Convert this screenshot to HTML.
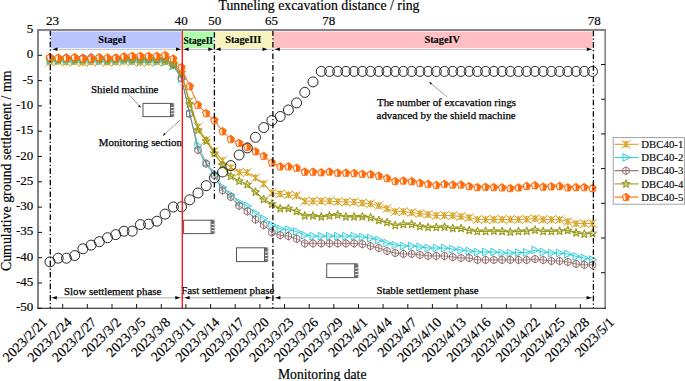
<!DOCTYPE html>
<html><head><meta charset="utf-8"><title>Settlement chart</title>
<style>html,body{margin:0;padding:0;background:#fff;} body{width:685px;height:381px;overflow:hidden;font-family:"Liberation Serif",serif;} svg{display:block;}</style>
</head><body>
<svg width="685" height="381" viewBox="0 0 685 381">
<defs>
 <g id="mGold" fill="none" stroke="#D8A01C" stroke-width="0.95">
  <path d="M-4.4,-4.4L4.4,4.4M-4.4,4.4L4.4,-4.4M0,-3.6V3.6M-2.4,-2.4L2.4,-2.4L-2.4,2.4L2.4,2.4Z"/>
 </g>
 <g id="mCyan"><path d="M-3.1,-3.8L4.1,0L-3.1,3.8Z" fill="none" stroke="#2FCFDA" stroke-width="1"/></g>
 <g id="mBrown" fill="none" stroke="#8E6565" stroke-width="0.95"><path d="M0,-3.9L3.2,-1.9L3.2,1.9L0,3.9L-3.2,1.9L-3.2,-1.9Z"/><path d="M0,-3.9V3.9"/></g>
 <g id="mOlive"><path d="M0,-4.1L1.05,-1.35L3.9,-1.3L1.65,0.55L2.45,3.4L0,1.75L-2.45,3.4L-1.65,0.55L-3.9,-1.3L-1.05,-1.35Z" fill="none" stroke="#9C9C20" stroke-width="1.15" stroke-linejoin="round"/></g>
 <g id="mOrange">
  <path d="M0,-4L3.8,-1.2L2.4,3.6L-2.4,3.6L-3.8,-1.2Z" fill="#FF6A0A" stroke="#FF6A0A" stroke-width="0.7"/>
  <path d="M-0.6,-2.5L-2.9,-0.8L-1.8,2.9L-0.6,2.9Z" fill="#fff"/>
 </g>
 <g id="mRing"><circle r="5" fill="none" stroke="#111" stroke-width="0.9"/></g>
 <g id="ahR"><path d="M0,0L-5,-1.8L-5,1.8Z" fill="#000"/></g>
 <g id="ahL"><path d="M0,0L5,-1.8L5,1.8Z" fill="#000"/></g>
</defs><rect width="685" height="381" fill="#fff"/><rect x="39" y="31" width="565" height="277" fill="#fff"/>
<rect x="51" y="31.5" width="130.3" height="16.5" fill="#B9C4FC"/>
<rect x="183" y="31.5" width="30.8" height="16.5" fill="#AEFFAE"/>
<rect x="215" y="31.5" width="57.6" height="16.5" fill="#F6F3BF"/>
<rect x="273.2" y="31.5" width="319.4" height="16.5" fill="#FFC0C3"/>
<g font-family="Liberation Serif" font-weight="bold" font-size="10.3" fill="#000" stroke="#000" stroke-width="0.15" text-anchor="middle"><text x="112.3" y="43.2">StageI</text><text x="198.3" y="43.6" textLength="29.5" lengthAdjust="spacingAndGlyphs">StageII</text><text x="243.2" y="42.9">StageIII</text><text x="442.2" y="42.9">StageIV</text></g>
<path d="M51,49.3H592.5" stroke="#c8c8c8" stroke-width="1.2"/>
<use href="#ahL" x="52.5" y="49.3"/>
<use href="#ahR" x="181" y="49.3"/><use href="#ahL" x="183.6" y="49.3"/>
<use href="#ahR" x="213.3" y="49.3"/><use href="#ahL" x="215.6" y="49.3"/>
<use href="#ahR" x="267.5" y="49.3"/><use href="#ahL" x="274.8" y="49.3"/>
<use href="#ahR" x="591.8" y="49.3"/>
<path d="M51,297.8H592.5" stroke="#b0b0b0" stroke-width="1"/>
<use href="#ahL" x="51.8" y="297.8"/><use href="#ahR" x="180.3" y="297.8"/>
<use href="#ahL" x="184.6" y="297.8"/><use href="#ahR" x="270.8" y="297.8"/>
<use href="#ahL" x="275.3" y="297.8"/><use href="#ahR" x="591.6" y="297.8"/>
<g font-family="Liberation Serif" font-size="10.9" fill="#000" stroke="#000" stroke-width="0.25"><text x="64" y="294.5">Slow settlement phase</text><text x="181.2" y="294.2">Fast settlement phase</text><text x="376.4" y="294.3">Stable settlement phase</text></g>
<rect x="143" y="103.4" width="27.5" height="13.2" fill="#fff" stroke="#555" stroke-width="1"/><rect x="170.5" y="102.9" width="3.2" height="14.2" fill="#6a6a6a"/><path d="M173.7,104.0q1.3,1.6 0,2.7" fill="none" stroke="#888" stroke-width="0.6"/><path d="M173.7,107.3q1.3,1.6 0,2.7" fill="none" stroke="#888" stroke-width="0.6"/><path d="M173.7,110.6q1.3,1.6 0,2.7" fill="none" stroke="#888" stroke-width="0.6"/><path d="M173.7,113.9q1.3,1.6 0,2.7" fill="none" stroke="#888" stroke-width="0.6"/><rect x="171.0" y="107.0" width="2.4" height="1" fill="#fff"/><rect x="171.0" y="110.2" width="2.4" height="1" fill="#fff"/><rect x="171.0" y="113.2" width="2.4" height="1" fill="#fff"/>
<rect x="183.6" y="220.2" width="27.5" height="13.4" fill="#fff" stroke="#555" stroke-width="1"/><rect x="211.1" y="219.7" width="3.2" height="14.4" fill="#6a6a6a"/><path d="M214.29999999999998,220.8q1.3,1.7 0,2.8" fill="none" stroke="#888" stroke-width="0.6"/><path d="M214.29999999999998,224.1q1.3,1.7 0,2.8" fill="none" stroke="#888" stroke-width="0.6"/><path d="M214.29999999999998,227.5q1.3,1.7 0,2.8" fill="none" stroke="#888" stroke-width="0.6"/><path d="M214.29999999999998,230.8q1.3,1.7 0,2.8" fill="none" stroke="#888" stroke-width="0.6"/><rect x="211.6" y="223.9" width="2.4" height="1" fill="#fff"/><rect x="211.6" y="227.1" width="2.4" height="1" fill="#fff"/><rect x="211.6" y="230.2" width="2.4" height="1" fill="#fff"/>
<rect x="236.5" y="247.8" width="28" height="13.8" fill="#fff" stroke="#555" stroke-width="1"/><rect x="264.5" y="247.3" width="3.2" height="14.8" fill="#6a6a6a"/><path d="M267.7,248.4q1.3,1.7 0,2.9" fill="none" stroke="#888" stroke-width="0.6"/><path d="M267.7,251.8q1.3,1.7 0,2.9" fill="none" stroke="#888" stroke-width="0.6"/><path d="M267.7,255.3q1.3,1.7 0,2.9" fill="none" stroke="#888" stroke-width="0.6"/><path d="M267.7,258.8q1.3,1.7 0,2.9" fill="none" stroke="#888" stroke-width="0.6"/><rect x="265.0" y="251.6" width="2.4" height="1" fill="#fff"/><rect x="265.0" y="254.9" width="2.4" height="1" fill="#fff"/><rect x="265.0" y="258.1" width="2.4" height="1" fill="#fff"/>
<rect x="326.7" y="263.8" width="28" height="13.8" fill="#fff" stroke="#555" stroke-width="1"/><rect x="354.7" y="263.3" width="3.2" height="14.8" fill="#6a6a6a"/><path d="M357.9,264.4q1.3,1.7 0,2.9" fill="none" stroke="#888" stroke-width="0.6"/><path d="M357.9,267.9q1.3,1.7 0,2.9" fill="none" stroke="#888" stroke-width="0.6"/><path d="M357.9,271.3q1.3,1.7 0,2.9" fill="none" stroke="#888" stroke-width="0.6"/><path d="M357.9,274.8q1.3,1.7 0,2.9" fill="none" stroke="#888" stroke-width="0.6"/><rect x="355.2" y="267.6" width="2.4" height="1" fill="#fff"/><rect x="355.2" y="270.9" width="2.4" height="1" fill="#fff"/><rect x="355.2" y="274.1" width="2.4" height="1" fill="#fff"/>
<g font-family="Liberation Serif" font-size="10.9" fill="#000" stroke="#000" stroke-width="0.25"><text x="91" y="92.6">Shield machine</text><text x="98.8" y="146.2">Monitoring section</text><text x="377" y="106">The number of excavation rings</text><text x="376.6" y="118.5">advanced by the shield machine</text></g>
<path d="M129.3,94.9L140.3,107" stroke="#555" stroke-width="0.6"/><path d="M141,107.8l-3.2,-1.3l1.8,-1.6z" fill="#222"/>
<path d="M180.2,120L163.5,135.2" stroke="#555" stroke-width="0.6"/><path d="M162.8,135.9l1.2,-3.2l1.7,1.8z" fill="#222"/>
<path d="M446.9,96.8L429.8,82.5" stroke="#555" stroke-width="0.6"/><path d="M429,81.9l3.3,1.1l-1.6,1.8z" fill="#222"/>
<polyline points="50,261.9 58.2,258.2 66.4,258.2 74.7,255.6 82.9,248.8 91.1,245.1 99.3,241.7 107.5,237.7 115.8,234.6 124,231.2 132.2,231.2 140.4,224.6 148.6,224.1 156.9,221.2 165.1,214.1 173.3,207 181.5,206.8 189.7,199.8 198,193 206.2,185.7 214.4,177.9 222.6,172 230.8,165.6 239.1,155 247.3,147.9 255.5,137.3 263.7,127.6 271.9,120.5 280.2,116.5 288.4,110 296.6,102.9 304.8,92.4 313,81.9 321.3,71.4 329.5,71.4 337.7,71.4 345.9,71.4 354.1,71.4 362.3,71.4 370.6,71.4 378.8,71.4 387,71.4 395.2,71.4 403.4,71.4 411.7,71.4 419.9,71.4 428.1,71.4 436.3,71.4 444.5,71.4 452.8,71.4 461,71.4 469.2,71.4 477.4,71.4 485.6,71.4 493.9,71.4 502.1,71.4 510.3,71.4 518.5,71.4 526.7,71.4 535,71.4 543.2,71.4 551.4,71.4 559.6,71.4 567.8,71.4 576.1,71.4 584.3,71.4 592.5,71.4" fill="none" stroke="#111" stroke-width="0.9" opacity="0"/>
<polyline points="50,62 58.2,61.5 66.4,62.2 74.7,61.8 82.9,62.5 91.1,62 99.3,61.6 107.5,62.2 115.8,62 124,61.5 132.2,61.8 140.4,62.5 148.6,62.2 156.9,61.8 165.1,62 173.3,66 181.5,75 189.7,101 198,127 206.2,140 214.4,151 222.6,160.5 230.8,167.6 239.1,172.3 247.3,172.5 255.5,177.8 263.7,183.8 271.9,193 280.2,193.9 288.4,194.8 296.6,195.6 304.8,201.1 313,201.1 321.3,201.1 329.5,201.1 337.7,201.7 345.9,202 354.1,202 362.3,203 370.6,203.7 378.8,205.7 387,208.6 395.2,211.6 403.4,211.6 411.7,212.6 419.9,213.6 428.1,214.5 436.3,215.5 444.5,215.5 452.8,215.6 461,216.6 469.2,217.6 477.4,219.5 485.6,219.5 493.9,219.5 502.1,219.5 510.3,219.5 518.5,219.5 526.7,219.3 535,218.6 543.2,219.6 551.4,219.6 559.6,219.6 567.8,221.6 576.1,223.6 584.3,223.6 592.5,223.6" fill="none" stroke="#D8A01C" stroke-width="1.0" />
<use href="#mGold" x="50" y="62"/><use href="#mGold" x="58.2" y="61.5"/><use href="#mGold" x="66.4" y="62.2"/><use href="#mGold" x="74.7" y="61.8"/><use href="#mGold" x="82.9" y="62.5"/><use href="#mGold" x="91.1" y="62"/><use href="#mGold" x="99.3" y="61.6"/><use href="#mGold" x="107.5" y="62.2"/><use href="#mGold" x="115.8" y="62"/><use href="#mGold" x="124" y="61.5"/><use href="#mGold" x="132.2" y="61.8"/><use href="#mGold" x="140.4" y="62.5"/><use href="#mGold" x="148.6" y="62.2"/><use href="#mGold" x="156.9" y="61.8"/><use href="#mGold" x="165.1" y="62"/><use href="#mGold" x="173.3" y="66"/><use href="#mGold" x="181.5" y="75"/><use href="#mGold" x="189.7" y="101"/><use href="#mGold" x="198" y="127"/><use href="#mGold" x="206.2" y="140"/><use href="#mGold" x="214.4" y="151"/><use href="#mGold" x="222.6" y="160.5"/><use href="#mGold" x="230.8" y="167.6"/><use href="#mGold" x="239.1" y="172.3"/><use href="#mGold" x="247.3" y="172.5"/><use href="#mGold" x="255.5" y="177.8"/><use href="#mGold" x="263.7" y="183.8"/><use href="#mGold" x="271.9" y="193"/><use href="#mGold" x="280.2" y="193.9"/><use href="#mGold" x="288.4" y="194.8"/><use href="#mGold" x="296.6" y="195.6"/><use href="#mGold" x="304.8" y="201.1"/><use href="#mGold" x="313" y="201.1"/><use href="#mGold" x="321.3" y="201.1"/><use href="#mGold" x="329.5" y="201.1"/><use href="#mGold" x="337.7" y="201.7"/><use href="#mGold" x="345.9" y="202"/><use href="#mGold" x="354.1" y="202"/><use href="#mGold" x="362.3" y="203"/><use href="#mGold" x="370.6" y="203.7"/><use href="#mGold" x="378.8" y="205.7"/><use href="#mGold" x="387" y="208.6"/><use href="#mGold" x="395.2" y="211.6"/><use href="#mGold" x="403.4" y="211.6"/><use href="#mGold" x="411.7" y="212.6"/><use href="#mGold" x="419.9" y="213.6"/><use href="#mGold" x="428.1" y="214.5"/><use href="#mGold" x="436.3" y="215.5"/><use href="#mGold" x="444.5" y="215.5"/><use href="#mGold" x="452.8" y="215.6"/><use href="#mGold" x="461" y="216.6"/><use href="#mGold" x="469.2" y="217.6"/><use href="#mGold" x="477.4" y="219.5"/><use href="#mGold" x="485.6" y="219.5"/><use href="#mGold" x="493.9" y="219.5"/><use href="#mGold" x="502.1" y="219.5"/><use href="#mGold" x="510.3" y="219.5"/><use href="#mGold" x="518.5" y="219.5"/><use href="#mGold" x="526.7" y="219.3"/><use href="#mGold" x="535" y="218.6"/><use href="#mGold" x="543.2" y="219.6"/><use href="#mGold" x="551.4" y="219.6"/><use href="#mGold" x="559.6" y="219.6"/><use href="#mGold" x="567.8" y="221.6"/><use href="#mGold" x="576.1" y="223.6"/><use href="#mGold" x="584.3" y="223.6"/><use href="#mGold" x="592.5" y="223.6"/>
<polyline points="50,60.5 58.2,61 66.4,60.8 74.7,61.2 82.9,60.5 91.1,61 99.3,61.3 107.5,60.8 115.8,61 124,60.5 132.2,61 140.4,61.2 148.6,60.8 156.9,61.5 165.1,61.8 173.3,66 181.5,79 189.7,113.7 198,145.6 206.2,162.8 214.4,173.1 222.6,187.2 230.8,194.5 239.1,202.2 247.3,205.8 255.5,213.2 263.7,218.7 271.9,225.1 280.2,228.8 288.4,229.7 296.6,231.5 304.8,235.2 313,236.1 321.3,236.1 329.5,236.1 337.7,236.1 345.9,236.1 354.1,236.1 362.3,237 370.6,238.2 378.8,240.1 387,243.1 395.2,245.1 403.4,246 411.7,246 419.9,247 428.1,248 436.3,248 444.5,248.1 452.8,249.1 461,250.1 469.2,251 477.4,252 485.6,252 493.9,252 502.1,253 510.3,253 518.5,252.6 526.7,252.5 535,250.1 543.2,252.1 551.4,253.1 559.6,253.1 567.8,254.1 576.1,256.4 584.3,258 592.5,259.6" fill="none" stroke="#2FCFDA" stroke-width="1.0" />
<use href="#mCyan" x="50" y="60.5"/><use href="#mCyan" x="58.2" y="61"/><use href="#mCyan" x="66.4" y="60.8"/><use href="#mCyan" x="74.7" y="61.2"/><use href="#mCyan" x="82.9" y="60.5"/><use href="#mCyan" x="91.1" y="61"/><use href="#mCyan" x="99.3" y="61.3"/><use href="#mCyan" x="107.5" y="60.8"/><use href="#mCyan" x="115.8" y="61"/><use href="#mCyan" x="124" y="60.5"/><use href="#mCyan" x="132.2" y="61"/><use href="#mCyan" x="140.4" y="61.2"/><use href="#mCyan" x="148.6" y="60.8"/><use href="#mCyan" x="156.9" y="61.5"/><use href="#mCyan" x="165.1" y="61.8"/><use href="#mCyan" x="173.3" y="66"/><use href="#mCyan" x="181.5" y="79"/><use href="#mCyan" x="189.7" y="113.7"/><use href="#mCyan" x="198" y="145.6"/><use href="#mCyan" x="206.2" y="162.8"/><use href="#mCyan" x="214.4" y="173.1"/><use href="#mCyan" x="222.6" y="187.2"/><use href="#mCyan" x="230.8" y="194.5"/><use href="#mCyan" x="239.1" y="202.2"/><use href="#mCyan" x="247.3" y="205.8"/><use href="#mCyan" x="255.5" y="213.2"/><use href="#mCyan" x="263.7" y="218.7"/><use href="#mCyan" x="271.9" y="225.1"/><use href="#mCyan" x="280.2" y="228.8"/><use href="#mCyan" x="288.4" y="229.7"/><use href="#mCyan" x="296.6" y="231.5"/><use href="#mCyan" x="304.8" y="235.2"/><use href="#mCyan" x="313" y="236.1"/><use href="#mCyan" x="321.3" y="236.1"/><use href="#mCyan" x="329.5" y="236.1"/><use href="#mCyan" x="337.7" y="236.1"/><use href="#mCyan" x="345.9" y="236.1"/><use href="#mCyan" x="354.1" y="236.1"/><use href="#mCyan" x="362.3" y="237"/><use href="#mCyan" x="370.6" y="238.2"/><use href="#mCyan" x="378.8" y="240.1"/><use href="#mCyan" x="387" y="243.1"/><use href="#mCyan" x="395.2" y="245.1"/><use href="#mCyan" x="403.4" y="246"/><use href="#mCyan" x="411.7" y="246"/><use href="#mCyan" x="419.9" y="247"/><use href="#mCyan" x="428.1" y="248"/><use href="#mCyan" x="436.3" y="248"/><use href="#mCyan" x="444.5" y="248.1"/><use href="#mCyan" x="452.8" y="249.1"/><use href="#mCyan" x="461" y="250.1"/><use href="#mCyan" x="469.2" y="251"/><use href="#mCyan" x="477.4" y="252"/><use href="#mCyan" x="485.6" y="252"/><use href="#mCyan" x="493.9" y="252"/><use href="#mCyan" x="502.1" y="253"/><use href="#mCyan" x="510.3" y="253"/><use href="#mCyan" x="518.5" y="252.6"/><use href="#mCyan" x="526.7" y="252.5"/><use href="#mCyan" x="535" y="250.1"/><use href="#mCyan" x="543.2" y="252.1"/><use href="#mCyan" x="551.4" y="253.1"/><use href="#mCyan" x="559.6" y="253.1"/><use href="#mCyan" x="567.8" y="254.1"/><use href="#mCyan" x="576.1" y="256.4"/><use href="#mCyan" x="584.3" y="258"/><use href="#mCyan" x="592.5" y="259.6"/>
<polyline points="50,58 58.2,58.5 66.4,57.8 74.7,58.2 82.9,58 91.1,57.5 99.3,58.2 107.5,58.6 115.8,58 124,57.8 132.2,58.3 140.4,58 148.6,58.5 156.9,58.8 165.1,59 173.3,64 181.5,78 189.7,113.7 198,150 206.2,163.6 214.4,175.4 222.6,190.4 230.8,197 239.1,205.8 247.3,211.3 255.5,219.6 263.7,225.1 271.9,232.5 280.2,235.2 288.4,236.1 296.6,238.8 304.8,243.4 313,243.4 321.3,243.4 329.5,243.4 337.7,243.4 345.9,243.4 354.1,243.4 362.3,244.1 370.6,246 378.8,248 387,251 395.2,253 403.4,253.9 411.7,253.9 419.9,254.9 428.1,255.9 436.3,255.9 444.5,256 452.8,257 461,258 469.2,258 477.4,259.9 485.6,259.9 493.9,259.9 502.1,259.9 510.3,259.9 518.5,259.9 526.7,260 535,259 543.2,260 551.4,261 559.6,261 567.8,262 576.1,263.9 584.3,264.9 592.5,264.9" fill="none" stroke="#8E6565" stroke-width="1.0" stroke-opacity="0.8"/>
<use href="#mBrown" x="50" y="58"/><use href="#mBrown" x="58.2" y="58.5"/><use href="#mBrown" x="66.4" y="57.8"/><use href="#mBrown" x="74.7" y="58.2"/><use href="#mBrown" x="82.9" y="58"/><use href="#mBrown" x="91.1" y="57.5"/><use href="#mBrown" x="99.3" y="58.2"/><use href="#mBrown" x="107.5" y="58.6"/><use href="#mBrown" x="115.8" y="58"/><use href="#mBrown" x="124" y="57.8"/><use href="#mBrown" x="132.2" y="58.3"/><use href="#mBrown" x="140.4" y="58"/><use href="#mBrown" x="148.6" y="58.5"/><use href="#mBrown" x="156.9" y="58.8"/><use href="#mBrown" x="165.1" y="59"/><use href="#mBrown" x="173.3" y="64"/><use href="#mBrown" x="181.5" y="78"/><use href="#mBrown" x="189.7" y="113.7"/><use href="#mBrown" x="198" y="150"/><use href="#mBrown" x="206.2" y="163.6"/><use href="#mBrown" x="214.4" y="175.4"/><use href="#mBrown" x="222.6" y="190.4"/><use href="#mBrown" x="230.8" y="197"/><use href="#mBrown" x="239.1" y="205.8"/><use href="#mBrown" x="247.3" y="211.3"/><use href="#mBrown" x="255.5" y="219.6"/><use href="#mBrown" x="263.7" y="225.1"/><use href="#mBrown" x="271.9" y="232.5"/><use href="#mBrown" x="280.2" y="235.2"/><use href="#mBrown" x="288.4" y="236.1"/><use href="#mBrown" x="296.6" y="238.8"/><use href="#mBrown" x="304.8" y="243.4"/><use href="#mBrown" x="313" y="243.4"/><use href="#mBrown" x="321.3" y="243.4"/><use href="#mBrown" x="329.5" y="243.4"/><use href="#mBrown" x="337.7" y="243.4"/><use href="#mBrown" x="345.9" y="243.4"/><use href="#mBrown" x="354.1" y="243.4"/><use href="#mBrown" x="362.3" y="244.1"/><use href="#mBrown" x="370.6" y="246"/><use href="#mBrown" x="378.8" y="248"/><use href="#mBrown" x="387" y="251"/><use href="#mBrown" x="395.2" y="253"/><use href="#mBrown" x="403.4" y="253.9"/><use href="#mBrown" x="411.7" y="253.9"/><use href="#mBrown" x="419.9" y="254.9"/><use href="#mBrown" x="428.1" y="255.9"/><use href="#mBrown" x="436.3" y="255.9"/><use href="#mBrown" x="444.5" y="256"/><use href="#mBrown" x="452.8" y="257"/><use href="#mBrown" x="461" y="258"/><use href="#mBrown" x="469.2" y="258"/><use href="#mBrown" x="477.4" y="259.9"/><use href="#mBrown" x="485.6" y="259.9"/><use href="#mBrown" x="493.9" y="259.9"/><use href="#mBrown" x="502.1" y="259.9"/><use href="#mBrown" x="510.3" y="259.9"/><use href="#mBrown" x="518.5" y="259.9"/><use href="#mBrown" x="526.7" y="260"/><use href="#mBrown" x="535" y="259"/><use href="#mBrown" x="543.2" y="260"/><use href="#mBrown" x="551.4" y="261"/><use href="#mBrown" x="559.6" y="261"/><use href="#mBrown" x="567.8" y="262"/><use href="#mBrown" x="576.1" y="263.9"/><use href="#mBrown" x="584.3" y="264.9"/><use href="#mBrown" x="592.5" y="264.9"/>
<polyline points="50,59.5 58.2,60 66.4,59 74.7,59.8 82.9,60.2 91.1,59.5 99.3,59.2 107.5,60 115.8,59.6 124,59 132.2,59.5 140.4,59.8 148.6,59.2 156.9,59.5 165.1,60 173.3,64 181.5,72.6 189.7,104 198,130 206.2,141 214.4,153.4 222.6,165.2 230.8,176.2 239.1,181 247.3,184.5 255.5,192 263.7,199.4 271.9,204 280.2,208.6 288.4,208.6 296.6,211.3 304.8,215.8 313,215.8 321.3,216.8 329.5,215.8 337.7,214.9 345.9,216.8 354.1,216.8 362.3,216.7 370.6,217.5 378.8,220.4 387,222.4 395.2,225.4 403.4,224.4 411.7,224.4 419.9,226.4 428.1,227.3 436.3,227.3 444.5,227 452.8,228.4 461,228.4 469.2,230.4 477.4,231.4 485.6,231.4 493.9,231 502.1,231.4 510.3,232 518.5,231.4 526.7,231.2 535,230 543.2,231.4 551.4,231.4 559.6,231 567.8,230.4 576.1,232.8 584.3,234 592.5,233.4" fill="none" stroke="#9C9C20" stroke-width="1.2" />
<use href="#mOlive" x="50" y="59.5"/><use href="#mOlive" x="58.2" y="60"/><use href="#mOlive" x="66.4" y="59"/><use href="#mOlive" x="74.7" y="59.8"/><use href="#mOlive" x="82.9" y="60.2"/><use href="#mOlive" x="91.1" y="59.5"/><use href="#mOlive" x="99.3" y="59.2"/><use href="#mOlive" x="107.5" y="60"/><use href="#mOlive" x="115.8" y="59.6"/><use href="#mOlive" x="124" y="59"/><use href="#mOlive" x="132.2" y="59.5"/><use href="#mOlive" x="140.4" y="59.8"/><use href="#mOlive" x="148.6" y="59.2"/><use href="#mOlive" x="156.9" y="59.5"/><use href="#mOlive" x="165.1" y="60"/><use href="#mOlive" x="173.3" y="64"/><use href="#mOlive" x="181.5" y="72.6"/><use href="#mOlive" x="189.7" y="104"/><use href="#mOlive" x="198" y="130"/><use href="#mOlive" x="206.2" y="141"/><use href="#mOlive" x="214.4" y="153.4"/><use href="#mOlive" x="222.6" y="165.2"/><use href="#mOlive" x="230.8" y="176.2"/><use href="#mOlive" x="239.1" y="181"/><use href="#mOlive" x="247.3" y="184.5"/><use href="#mOlive" x="255.5" y="192"/><use href="#mOlive" x="263.7" y="199.4"/><use href="#mOlive" x="271.9" y="204"/><use href="#mOlive" x="280.2" y="208.6"/><use href="#mOlive" x="288.4" y="208.6"/><use href="#mOlive" x="296.6" y="211.3"/><use href="#mOlive" x="304.8" y="215.8"/><use href="#mOlive" x="313" y="215.8"/><use href="#mOlive" x="321.3" y="216.8"/><use href="#mOlive" x="329.5" y="215.8"/><use href="#mOlive" x="337.7" y="214.9"/><use href="#mOlive" x="345.9" y="216.8"/><use href="#mOlive" x="354.1" y="216.8"/><use href="#mOlive" x="362.3" y="216.7"/><use href="#mOlive" x="370.6" y="217.5"/><use href="#mOlive" x="378.8" y="220.4"/><use href="#mOlive" x="387" y="222.4"/><use href="#mOlive" x="395.2" y="225.4"/><use href="#mOlive" x="403.4" y="224.4"/><use href="#mOlive" x="411.7" y="224.4"/><use href="#mOlive" x="419.9" y="226.4"/><use href="#mOlive" x="428.1" y="227.3"/><use href="#mOlive" x="436.3" y="227.3"/><use href="#mOlive" x="444.5" y="227"/><use href="#mOlive" x="452.8" y="228.4"/><use href="#mOlive" x="461" y="228.4"/><use href="#mOlive" x="469.2" y="230.4"/><use href="#mOlive" x="477.4" y="231.4"/><use href="#mOlive" x="485.6" y="231.4"/><use href="#mOlive" x="493.9" y="231"/><use href="#mOlive" x="502.1" y="231.4"/><use href="#mOlive" x="510.3" y="232"/><use href="#mOlive" x="518.5" y="231.4"/><use href="#mOlive" x="526.7" y="231.2"/><use href="#mOlive" x="535" y="230"/><use href="#mOlive" x="543.2" y="231.4"/><use href="#mOlive" x="551.4" y="231.4"/><use href="#mOlive" x="559.6" y="231"/><use href="#mOlive" x="567.8" y="230.4"/><use href="#mOlive" x="576.1" y="232.8"/><use href="#mOlive" x="584.3" y="234"/><use href="#mOlive" x="592.5" y="233.4"/>
<polyline points="50,57.2 58.2,57.8 66.4,57.8 74.7,57.2 82.9,58.2 91.1,58.6 99.3,57.2 107.5,57.6 115.8,57.8 124,56.5 132.2,55.9 140.4,55.9 148.6,55.9 156.9,55.9 165.1,55.1 173.3,58.6 181.5,67.3 189.7,86.3 198,105 206.2,113.2 214.4,120.2 222.6,131.3 230.8,139.1 239.1,142.9 247.3,146.8 255.5,151.4 263.7,156 271.9,162.6 280.2,166.5 288.4,166.5 296.6,167.9 304.8,171.8 313,171.8 321.3,172.4 329.5,171.7 337.7,172.8 345.9,172.8 354.1,173.1 362.3,173.9 370.6,174.3 378.8,175.8 387,178.2 395.2,181.2 403.4,180.7 411.7,181.3 419.9,182.8 428.1,184 436.3,185.1 444.5,184 452.8,184.7 461,184.7 469.2,186.2 477.4,187.2 485.6,186.9 493.9,187.2 502.1,187.5 510.3,188.2 518.5,187.5 526.7,186.1 535,185.3 543.2,186.8 551.4,186.4 559.6,186.1 567.8,187.5 576.1,187.2 584.3,187.2 592.5,188.2" fill="none" stroke="#FF6A0A" stroke-width="1.0" />
<use href="#mOrange" x="50" y="57.2"/><use href="#mOrange" x="58.2" y="57.8"/><use href="#mOrange" x="66.4" y="57.8"/><use href="#mOrange" x="74.7" y="57.2"/><use href="#mOrange" x="82.9" y="58.2"/><use href="#mOrange" x="91.1" y="58.6"/><use href="#mOrange" x="99.3" y="57.2"/><use href="#mOrange" x="107.5" y="57.6"/><use href="#mOrange" x="115.8" y="57.8"/><use href="#mOrange" x="124" y="56.5"/><use href="#mOrange" x="132.2" y="55.9"/><use href="#mOrange" x="140.4" y="55.9"/><use href="#mOrange" x="148.6" y="55.9"/><use href="#mOrange" x="156.9" y="55.9"/><use href="#mOrange" x="165.1" y="55.1"/><use href="#mOrange" x="173.3" y="58.6"/><use href="#mOrange" x="181.5" y="67.3"/><use href="#mOrange" x="189.7" y="86.3"/><use href="#mOrange" x="198" y="105"/><use href="#mOrange" x="206.2" y="113.2"/><use href="#mOrange" x="214.4" y="120.2"/><use href="#mOrange" x="222.6" y="131.3"/><use href="#mOrange" x="230.8" y="139.1"/><use href="#mOrange" x="239.1" y="142.9"/><use href="#mOrange" x="247.3" y="146.8"/><use href="#mOrange" x="255.5" y="151.4"/><use href="#mOrange" x="263.7" y="156"/><use href="#mOrange" x="271.9" y="162.6"/><use href="#mOrange" x="280.2" y="166.5"/><use href="#mOrange" x="288.4" y="166.5"/><use href="#mOrange" x="296.6" y="167.9"/><use href="#mOrange" x="304.8" y="171.8"/><use href="#mOrange" x="313" y="171.8"/><use href="#mOrange" x="321.3" y="172.4"/><use href="#mOrange" x="329.5" y="171.7"/><use href="#mOrange" x="337.7" y="172.8"/><use href="#mOrange" x="345.9" y="172.8"/><use href="#mOrange" x="354.1" y="173.1"/><use href="#mOrange" x="362.3" y="173.9"/><use href="#mOrange" x="370.6" y="174.3"/><use href="#mOrange" x="378.8" y="175.8"/><use href="#mOrange" x="387" y="178.2"/><use href="#mOrange" x="395.2" y="181.2"/><use href="#mOrange" x="403.4" y="180.7"/><use href="#mOrange" x="411.7" y="181.3"/><use href="#mOrange" x="419.9" y="182.8"/><use href="#mOrange" x="428.1" y="184"/><use href="#mOrange" x="436.3" y="185.1"/><use href="#mOrange" x="444.5" y="184"/><use href="#mOrange" x="452.8" y="184.7"/><use href="#mOrange" x="461" y="184.7"/><use href="#mOrange" x="469.2" y="186.2"/><use href="#mOrange" x="477.4" y="187.2"/><use href="#mOrange" x="485.6" y="186.9"/><use href="#mOrange" x="493.9" y="187.2"/><use href="#mOrange" x="502.1" y="187.5"/><use href="#mOrange" x="510.3" y="188.2"/><use href="#mOrange" x="518.5" y="187.5"/><use href="#mOrange" x="526.7" y="186.1"/><use href="#mOrange" x="535" y="185.3"/><use href="#mOrange" x="543.2" y="186.8"/><use href="#mOrange" x="551.4" y="186.4"/><use href="#mOrange" x="559.6" y="186.1"/><use href="#mOrange" x="567.8" y="187.5"/><use href="#mOrange" x="576.1" y="187.2"/><use href="#mOrange" x="584.3" y="187.2"/><use href="#mOrange" x="592.5" y="188.2"/>
<use href="#mRing" x="50" y="261.9"/><use href="#mRing" x="58.2" y="258.2"/><use href="#mRing" x="66.4" y="258.2"/><use href="#mRing" x="74.7" y="255.6"/><use href="#mRing" x="82.9" y="248.8"/><use href="#mRing" x="91.1" y="245.1"/><use href="#mRing" x="99.3" y="241.7"/><use href="#mRing" x="107.5" y="237.7"/><use href="#mRing" x="115.8" y="234.6"/><use href="#mRing" x="124" y="231.2"/><use href="#mRing" x="132.2" y="231.2"/><use href="#mRing" x="140.4" y="224.6"/><use href="#mRing" x="148.6" y="224.1"/><use href="#mRing" x="156.9" y="221.2"/><use href="#mRing" x="165.1" y="214.1"/><use href="#mRing" x="173.3" y="207"/><use href="#mRing" x="181.5" y="206.8"/><use href="#mRing" x="189.7" y="199.8"/><use href="#mRing" x="198" y="193"/><use href="#mRing" x="206.2" y="185.7"/><use href="#mRing" x="214.4" y="177.9"/><use href="#mRing" x="222.6" y="172"/><use href="#mRing" x="230.8" y="165.6"/><use href="#mRing" x="239.1" y="155"/><use href="#mRing" x="247.3" y="147.9"/><use href="#mRing" x="255.5" y="137.3"/><use href="#mRing" x="263.7" y="127.6"/><use href="#mRing" x="271.9" y="120.5"/><use href="#mRing" x="280.2" y="116.5"/><use href="#mRing" x="288.4" y="110"/><use href="#mRing" x="296.6" y="102.9"/><use href="#mRing" x="304.8" y="92.4"/><use href="#mRing" x="313" y="81.9"/><use href="#mRing" x="321.3" y="71.4"/><use href="#mRing" x="329.5" y="71.4"/><use href="#mRing" x="337.7" y="71.4"/><use href="#mRing" x="345.9" y="71.4"/><use href="#mRing" x="354.1" y="71.4"/><use href="#mRing" x="362.3" y="71.4"/><use href="#mRing" x="370.6" y="71.4"/><use href="#mRing" x="378.8" y="71.4"/><use href="#mRing" x="387" y="71.4"/><use href="#mRing" x="395.2" y="71.4"/><use href="#mRing" x="403.4" y="71.4"/><use href="#mRing" x="411.7" y="71.4"/><use href="#mRing" x="419.9" y="71.4"/><use href="#mRing" x="428.1" y="71.4"/><use href="#mRing" x="436.3" y="71.4"/><use href="#mRing" x="444.5" y="71.4"/><use href="#mRing" x="452.8" y="71.4"/><use href="#mRing" x="461" y="71.4"/><use href="#mRing" x="469.2" y="71.4"/><use href="#mRing" x="477.4" y="71.4"/><use href="#mRing" x="485.6" y="71.4"/><use href="#mRing" x="493.9" y="71.4"/><use href="#mRing" x="502.1" y="71.4"/><use href="#mRing" x="510.3" y="71.4"/><use href="#mRing" x="518.5" y="71.4"/><use href="#mRing" x="526.7" y="71.4"/><use href="#mRing" x="535" y="71.4"/><use href="#mRing" x="543.2" y="71.4"/><use href="#mRing" x="551.4" y="71.4"/><use href="#mRing" x="559.6" y="71.4"/><use href="#mRing" x="567.8" y="71.4"/><use href="#mRing" x="576.1" y="71.4"/><use href="#mRing" x="584.3" y="71.4"/><use href="#mRing" x="592.5" y="71.4"/>
<path d="M50.3,30V308" stroke="#000" stroke-width="1.3" stroke-dasharray="5.6,2.36,1.2,2.36" stroke-dashoffset="11.42"/>
<path d="M214.4,30V199" stroke="#000" stroke-width="1.3" stroke-dasharray="5.6,2.36,1.2,2.36" stroke-dashoffset="9.32"/>
<path d="M272.9,30V308" stroke="#000" stroke-width="1.3" stroke-dasharray="5.6,2.36,1.2,2.36" stroke-dashoffset="11.12"/>
<path d="M593.4,30V308" stroke="#000" stroke-width="1.3" stroke-dasharray="5.6,2.36,1.2,2.36" stroke-dashoffset="10.92"/>
<path d="M182.3,30V308" stroke="#FF1A1A" stroke-width="1.4"/>
<path d="M38,30V308" stroke="#858585" stroke-width="2"/>
<path d="M37,30H606" stroke="#858585" stroke-width="2"/>
<path d="M605.2,29V308.5" stroke="#858585" stroke-width="1.7"/>
<path d="M37,308.2H606" stroke="#111" stroke-width="1.1"/>
<path d="M38,55.3H42" stroke="#111" stroke-width="1"/>
<path d="M38,80.6H42" stroke="#111" stroke-width="1"/>
<path d="M38,105.9H42" stroke="#111" stroke-width="1"/>
<path d="M38,131.2H42" stroke="#111" stroke-width="1"/>
<path d="M38,156.5H42" stroke="#111" stroke-width="1"/>
<path d="M38,181.8H42" stroke="#111" stroke-width="1"/>
<path d="M38,207.1H42" stroke="#111" stroke-width="1"/>
<path d="M38,232.4H42" stroke="#111" stroke-width="1"/>
<path d="M38,257.7H42" stroke="#111" stroke-width="1"/>
<path d="M38,283.0H42" stroke="#111" stroke-width="1"/>
<path d="M38,308.3H42" stroke="#111" stroke-width="1"/>
<g font-family="Liberation Serif" font-size="13" fill="#000" stroke="#000" stroke-width="0.18" text-anchor="end"><text x="33.3" y="33.0">5</text><text x="33.3" y="58.3">0</text><text x="33.3" y="83.6">-5</text><text x="33.3" y="108.9">-10</text><text x="33.3" y="134.2">-15</text><text x="33.3" y="159.5">-20</text><text x="33.3" y="184.8">-25</text><text x="33.3" y="210.1">-30</text><text x="33.3" y="235.4">-35</text><text x="33.3" y="260.7">-40</text><text x="33.3" y="286.0">-45</text><text x="33.3" y="311.3">-50</text></g>
<path d="M605,64.5H601" stroke="#111" stroke-width="1"/>
<path d="M605,99.2H601" stroke="#111" stroke-width="1"/>
<path d="M605,133.9H601" stroke="#111" stroke-width="1"/>
<path d="M605,168.6H601" stroke="#111" stroke-width="1"/>
<path d="M605,203.3H601" stroke="#111" stroke-width="1"/>
<path d="M605,238.0H601" stroke="#111" stroke-width="1"/>
<path d="M605,272.7H601" stroke="#111" stroke-width="1"/>
<path d="M62.7,308V304" stroke="#111" stroke-width="1"/>
<path d="M87.3,308V304" stroke="#111" stroke-width="1"/>
<path d="M112.0,308V304" stroke="#111" stroke-width="1"/>
<path d="M136.6,308V304" stroke="#111" stroke-width="1"/>
<path d="M161.3,308V304" stroke="#111" stroke-width="1"/>
<path d="M185.9,308V304" stroke="#111" stroke-width="1"/>
<path d="M210.6,308V304" stroke="#111" stroke-width="1"/>
<path d="M235.2,308V304" stroke="#111" stroke-width="1"/>
<path d="M259.9,308V304" stroke="#111" stroke-width="1"/>
<path d="M284.5,308V304" stroke="#111" stroke-width="1"/>
<path d="M309.2,308V304" stroke="#111" stroke-width="1"/>
<path d="M333.8,308V304" stroke="#111" stroke-width="1"/>
<path d="M358.5,308V304" stroke="#111" stroke-width="1"/>
<path d="M383.1,308V304" stroke="#111" stroke-width="1"/>
<path d="M407.8,308V304" stroke="#111" stroke-width="1"/>
<path d="M432.4,308V304" stroke="#111" stroke-width="1"/>
<path d="M457.1,308V304" stroke="#111" stroke-width="1"/>
<path d="M481.7,308V304" stroke="#111" stroke-width="1"/>
<path d="M506.4,308V304" stroke="#111" stroke-width="1"/>
<path d="M531.0,308V304" stroke="#111" stroke-width="1"/>
<path d="M555.7,308V304" stroke="#111" stroke-width="1"/>
<path d="M580.3,308V304" stroke="#111" stroke-width="1"/>
<g font-family="Liberation Serif" font-size="13.8" fill="#000" stroke="#000" stroke-width="0.18" text-anchor="end"><text transform="translate(47.9,323.1) rotate(-45)" x="0" y="0">2023/2/21</text><text transform="translate(72.6,323.1) rotate(-45)" x="0" y="0">2023/2/24</text><text transform="translate(97.2,323.1) rotate(-45)" x="0" y="0">2023/2/27</text><text transform="translate(121.9,323.1) rotate(-45)" x="0" y="0">2023/3/2</text><text transform="translate(146.5,323.1) rotate(-45)" x="0" y="0">2023/3/5</text><text transform="translate(171.2,323.1) rotate(-45)" x="0" y="0">2023/3/8</text><text transform="translate(195.8,323.1) rotate(-45)" x="0" y="0">2023/3/11</text><text transform="translate(220.5,323.1) rotate(-45)" x="0" y="0">2023/3/14</text><text transform="translate(245.1,323.1) rotate(-45)" x="0" y="0">2023/3/17</text><text transform="translate(269.8,323.1) rotate(-45)" x="0" y="0">2023/3/20</text><text transform="translate(294.4,323.1) rotate(-45)" x="0" y="0">2023/3/23</text><text transform="translate(319.1,323.1) rotate(-45)" x="0" y="0">2023/3/26</text><text transform="translate(343.7,323.1) rotate(-45)" x="0" y="0">2023/3/29</text><text transform="translate(368.4,323.1) rotate(-45)" x="0" y="0">2023/4/1</text><text transform="translate(393.0,323.1) rotate(-45)" x="0" y="0">2023/4/4</text><text transform="translate(417.7,323.1) rotate(-45)" x="0" y="0">2023/4/7</text><text transform="translate(442.3,323.1) rotate(-45)" x="0" y="0">2023/4/10</text><text transform="translate(467.0,323.1) rotate(-45)" x="0" y="0">2023/4/13</text><text transform="translate(491.6,323.1) rotate(-45)" x="0" y="0">2023/4/16</text><text transform="translate(516.3,323.1) rotate(-45)" x="0" y="0">2023/4/19</text><text transform="translate(540.9,323.1) rotate(-45)" x="0" y="0">2023/4/22</text><text transform="translate(565.6,323.1) rotate(-45)" x="0" y="0">2023/4/25</text><text transform="translate(590.2,323.1) rotate(-45)" x="0" y="0">2023/4/28</text><text transform="translate(614.9,323.1) rotate(-45)" x="0" y="0">2023/5/1</text></g>
<g font-family="Liberation Serif" font-size="13" fill="#000" stroke="#000" stroke-width="0.18" text-anchor="middle"><text x="52.5" y="25">23</text><text x="181.2" y="25">40</text><text x="214.8" y="25">50</text><text x="271.4" y="25">65</text><text x="328.7" y="25">78</text><text x="594.2" y="25">78</text></g>
<text x="319" y="9.8" font-family="Liberation Serif" font-size="13.8" fill="#000" stroke="#000" stroke-width="0.18" text-anchor="middle">Tunneling excavation distance / ring</text>
<text x="322.2" y="379" font-family="Liberation Serif" font-size="13.7" fill="#000" stroke="#000" stroke-width="0.18" text-anchor="middle">Monitoring date</text>
<text transform="translate(10.6,170.8) rotate(-90)" font-family="Liberation Serif" font-size="13.9" fill="#000" stroke="#000" stroke-width="0.18" text-anchor="middle">Cumulative ground settlement / mm</text>
<rect x="613.2" y="137.6" width="71.2" height="66.6" fill="#fff" stroke="#999" stroke-width="0.9"/><path d="M614.5,144.3H638.6" stroke="#D8A01C" stroke-width="1.1"/><use href="#mGold" x="626" y="144.3"/><text x="641.3" y="148.0" font-family="Liberation Serif" font-size="10.8" fill="#000" stroke="#000" stroke-width="0.12">DBC40-1</text><path d="M614.5,157.5H638.6" stroke="#2FCFDA" stroke-width="1.1"/><use href="#mCyan" x="626" y="157.5"/><text x="641.3" y="161.2" font-family="Liberation Serif" font-size="10.8" fill="#000" stroke="#000" stroke-width="0.12">DBC40-2</text><path d="M614.5,170.7H638.6" stroke="#8E6565" stroke-width="1.1"/><use href="#mBrown" x="626" y="170.7"/><text x="641.3" y="174.4" font-family="Liberation Serif" font-size="10.8" fill="#000" stroke="#000" stroke-width="0.12">DBC40-3</text><path d="M614.5,183.9H638.6" stroke="#9C9C20" stroke-width="1.1"/><use href="#mOlive" x="626" y="183.9"/><text x="641.3" y="187.6" font-family="Liberation Serif" font-size="10.8" fill="#000" stroke="#000" stroke-width="0.12">DBC40-4</text><path d="M614.5,197.1H638.6" stroke="#FF6A0A" stroke-width="1.1"/><use href="#mOrange" x="626" y="197.1"/><text x="641.3" y="200.8" font-family="Liberation Serif" font-size="10.8" fill="#000" stroke="#000" stroke-width="0.12">DBC40-5</text></svg>
</body></html>
